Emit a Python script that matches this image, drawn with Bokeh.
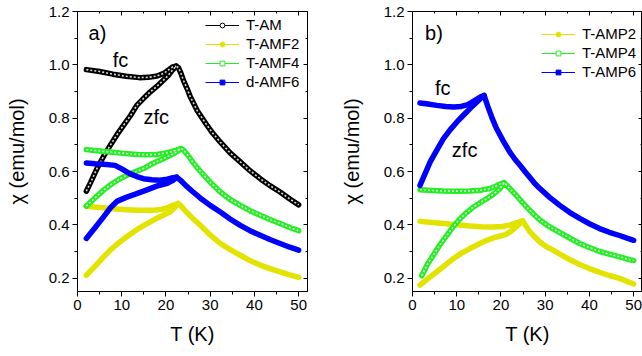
from bokeh.plotting import figure
from bokeh.models import (Range1d, FixedTicker, LinearAxis, Legend, LegendItem,
                          Label, CustomJSTickFormatter)
from bokeh.layouts import row
from bokeh.embed import file_html
from bokeh.resources import INLINE

# ---------------- data ----------------
x_ticks = [0, 10, 20, 30, 40, 50]
x_minor = [5, 15, 25, 35, 45]
y_ticks = [0.2, 0.4, 0.6, 0.8, 1.0, 1.2]
y_minor = [0.3, 0.5, 0.7, 0.9, 1.1]

# panel a
am_zfc_T = [2, 3, 4.4, 6, 7.4, 9, 10.4, 12, 13.4, 15, 16.4, 18, 19.4, 20.5, 21.2, 22.3]
am_zfc_c = [0.526, 0.56, 0.611, 0.66, 0.698, 0.74, 0.773, 0.81, 0.848, 0.875, 0.898, 0.92, 0.942, 0.96, 0.975, 0.995]
am_fc_T = [2, 5, 8, 11, 14, 16, 18, 19.5, 20.5, 21.5, 22.3]
am_fc_c = [0.982, 0.975, 0.965, 0.957, 0.952, 0.953, 0.958, 0.968, 0.98, 0.992, 0.995]
am_hi_T = [22.3, 22.8, 23.3, 24, 24.8, 25.5, 26.3, 27, 27.8, 29, 30.5, 32.3, 34.5, 36.8, 39, 41.3, 43.5, 45.8, 48, 50]
am_hi_c = [0.995, 0.99, 0.972, 0.94, 0.91, 0.88, 0.854, 0.83, 0.81, 0.78, 0.745, 0.71, 0.67, 0.636, 0.603, 0.573, 0.547, 0.523, 0.497, 0.475]

amf2_zfc_T = [2, 4, 5.9, 7.7, 9.6, 11.5, 13.4, 15.2, 17.1, 19, 20.9, 22, 22.7]
amf2_zfc_c = [0.211, 0.245, 0.28, 0.31, 0.336, 0.36, 0.382, 0.4, 0.417, 0.433, 0.448, 0.465, 0.48]
amf2_fc_T = [2, 5, 8, 11, 14, 17, 19, 20.5, 21.7, 22.7]
amf2_fc_c = [0.47, 0.465, 0.46, 0.457, 0.455, 0.455, 0.458, 0.465, 0.474, 0.48]
amf2_hi_T = [22.7, 23.3, 24.5, 26, 27.8, 30, 32.3, 34.5, 36.8, 39, 41.3, 43.5, 45.8, 48, 50]
amf2_hi_c = [0.48, 0.473, 0.45, 0.425, 0.398, 0.362, 0.33, 0.307, 0.286, 0.266, 0.249, 0.236, 0.224, 0.212, 0.203]

amf4_zfc_T = [2, 4, 5.9, 7.7, 9.6, 12, 14.9, 17, 19.4, 21, 22.4, 23.4]
amf4_zfc_c = [0.47, 0.502, 0.53, 0.553, 0.573, 0.592, 0.611, 0.63, 0.648, 0.661, 0.673, 0.686]
amf4_fc_T = [2, 5, 7.4, 10.5, 13.4, 16, 17.9, 19.5, 20.9, 22.3, 23.4]
amf4_fc_c = [0.682, 0.677, 0.673, 0.668, 0.664, 0.663, 0.664, 0.668, 0.673, 0.68, 0.686]
amf4_hi_T = [23.4, 24, 25, 26.3, 27.8, 30, 32.3, 34.5, 36.8, 39, 41.3, 43.5, 45.8, 48, 50]
amf4_hi_c = [0.686, 0.68, 0.66, 0.63, 0.6, 0.56, 0.523, 0.495, 0.473, 0.453, 0.436, 0.42, 0.405, 0.39, 0.378]

amf6_zfc_T = [2, 4, 5.9, 7.5, 9.0, 11, 13.4, 15.7, 17.9, 20.3, 21.5, 22.4]
amf6_zfc_c = [0.349, 0.39, 0.43, 0.465, 0.489, 0.503, 0.517, 0.531, 0.545, 0.556, 0.566, 0.579]
amf6_fc_T = [2, 4, 5.9, 8.5, 10, 11.8, 13.4, 14.9, 16.8, 18.6, 20.3, 21.6, 22.4]
amf6_fc_c = [0.632, 0.629, 0.627, 0.623, 0.61, 0.592, 0.581, 0.573, 0.569, 0.567, 0.571, 0.577, 0.579]
amf6_hi_T = [22.4, 23.3, 24.5, 26, 27.8, 30, 32.3, 34.5, 36.8, 39, 41.3, 43.5, 45.8, 48, 50]
amf6_hi_c = [0.579, 0.567, 0.547, 0.525, 0.5, 0.473, 0.448, 0.422, 0.398, 0.378, 0.361, 0.345, 0.33, 0.316, 0.305]

# panel b
amp2_zfc_T = [1.7, 3.5, 5.5, 7.4, 9.3, 11, 13, 15, 16.8, 18.5, 19.8, 21, 22, 23.3, 24.3, 24.9]
amp2_zfc_c = [0.174, 0.198, 0.224, 0.249, 0.274, 0.293, 0.311, 0.328, 0.342, 0.352, 0.358, 0.363, 0.373, 0.39, 0.405, 0.415]
amp2_fc_T = [1.7, 4.5, 7, 10, 13, 15.5, 18.3, 20.3, 22, 23.5, 24.9]
amp2_fc_c = [0.413, 0.409, 0.405, 0.4, 0.396, 0.393, 0.392, 0.394, 0.399, 0.407, 0.415]
amp2_hi_T = [24.9, 25.7, 26.5, 27.6, 28.8, 30.3, 31.8, 33.3, 35.5, 37.8, 40, 42.3, 44.5, 46.8, 48.5, 50]
amp2_hi_c = [0.415, 0.395, 0.375, 0.355, 0.336, 0.318, 0.305, 0.29, 0.27, 0.251, 0.236, 0.222, 0.21, 0.199, 0.188, 0.178]

amp4_zfc_T = [2.1, 3.3, 4.7, 6.2, 7.8, 9.3, 10.8, 12.3, 13.8, 15.3, 16.8, 18.3, 19.8, 20.7]
amp4_zfc_c = [0.209, 0.25, 0.286, 0.325, 0.361, 0.395, 0.424, 0.447, 0.467, 0.483, 0.498, 0.515, 0.536, 0.558]
amp4_fc_T = [1.7, 4.5, 7, 10, 13, 15.5, 17.5, 18.8, 19.8, 20.7]
amp4_fc_c = [0.532, 0.529, 0.527, 0.526, 0.527, 0.53, 0.536, 0.545, 0.553, 0.558]
amp4_hi_T = [20.7, 21.5, 22.5, 23.5, 24.8, 26.2, 27.5, 28.8, 30.3, 31.8, 34.5, 37.8, 40, 42.3, 44.5, 46.8, 48.5, 50]
amp4_hi_c = [0.558, 0.545, 0.527, 0.51, 0.485, 0.46, 0.438, 0.418, 0.4, 0.385, 0.36, 0.33, 0.315, 0.3, 0.29, 0.28, 0.272, 0.266]

amp6_zfc_T = [1.7, 2.8, 4, 5.5, 7, 8.5, 10, 11.5, 13, 14.2, 15.3, 16.2]
amp6_zfc_c = [0.548, 0.59, 0.636, 0.68, 0.723, 0.756, 0.785, 0.811, 0.836, 0.855, 0.873, 0.885]
amp6_fc_T = [1.7, 3.5, 5.5, 7.5, 9.3, 11, 12.3, 13.5, 14.5, 15.4, 16.2]
amp6_fc_c = [0.857, 0.853, 0.848, 0.844, 0.842, 0.844, 0.85, 0.86, 0.871, 0.88, 0.885]
amp6_hi_T = [16.2, 17, 18, 19, 20.5, 22, 23.2, 24.3, 25.5, 26.5, 27.6, 28.8, 31, 33.3, 35.5, 37.8, 40, 42.3, 44.5, 46.8, 48.5, 50]
amp6_hi_c = [0.885, 0.845, 0.8, 0.761, 0.715, 0.673, 0.645, 0.623, 0.598, 0.578, 0.556, 0.536, 0.503, 0.473, 0.447, 0.424, 0.404, 0.386, 0.372, 0.36, 0.35, 0.342]

# ---------------- styling ----------------
FONT = "Liberation Sans"
BLACK = "#000000"
YELLOW = "#E3E300"
GREEN = "#22EE22"
BLUE = "#0000FF"


def make_fig(width, bl, br):
    p = figure(width=width, height=356, x_range=Range1d(0, 52), y_range=Range1d(0.15, 1.2),
               output_backend="svg", toolbar_location=None,
               min_border_left=bl, min_border_right=br, min_border_top=11, min_border_bottom=65)
    p.xgrid.visible = False
    p.ygrid.visible = False
    p.outline_line_color = "black"
    p.outline_line_width = 1
    p.xaxis.ticker = FixedTicker(ticks=x_ticks, minor_ticks=x_minor)
    p.yaxis.ticker = FixedTicker(ticks=y_ticks, minor_ticks=y_minor)
    p.yaxis.major_label_overrides = {v: f"{v:.1f}" for v in y_ticks}
    for ax in (p.xaxis[0], p.yaxis[0]):
        ax.axis_line_color = "black"
        ax.major_tick_out = 5
        ax.major_tick_in = 0
        ax.minor_tick_out = 3
        ax.minor_tick_in = 0
        ax.major_label_text_font = FONT
        ax.major_label_text_font_size = "15px"
        ax.major_label_text_color = "black"
        ax.axis_label_text_font = FONT
        ax.axis_label_text_font_size = "20px"
        ax.axis_label_text_font_style = "normal"
        ax.axis_label_text_color = "black"
    p.xaxis.major_label_standoff = 3
    p.yaxis.major_label_standoff = 3
    p.xaxis.axis_label = "T (K)"
    p.yaxis.axis_label = "\u03c7 (emu/mol)"
    p.xaxis.axis_label_standoff = 10
    p.yaxis.axis_label_standoff = 18
    # mirrored axes with inward ticks
    for side, tick in (("above", FixedTicker(ticks=x_ticks, minor_ticks=x_minor)),
                       ("right", FixedTicker(ticks=y_ticks, minor_ticks=y_minor))):
        ax = LinearAxis(ticker=tick)
        ax.formatter = CustomJSTickFormatter(code="return ''")
        ax.major_label_text_font_size = "0px"
        ax.major_label_standoff = 0
        ax.major_tick_in = 4
        ax.major_tick_out = 0
        ax.minor_tick_in = 2
        ax.minor_tick_out = 0
        ax.axis_line_color = "black"
        p.add_layout(ax, side)
    return p


def series(p, zT, zc, fT, fc, hT, hc, color, marker, filled, hollow):
    # legend key proxies (not shown in the plot area)
    thin = p.line(zT + hT[1:], zc + hc[1:], line_color=color, line_width=1, visible=False)
    mk = p.scatter(zT, zc, marker=marker, size=5, line_color=color,
                   fill_color=color if filled else "white", line_width=1, visible=False)
    paths = [(zT + hT[1:], zc + hc[1:]), (fT, fc)]
    for xs, ys in paths:
        p.line(xs, ys, line_color=color, line_width=5.5, line_join="round", line_cap="round")
    if hollow:
        for xs, ys in paths:
            p.line(xs, ys, line_color="white", line_width=1.6, line_alpha=0.85,
                   line_dash="2 2", line_join="round")
    return [thin, mk]


def add_legend(p, items, loc):
    leg = Legend(items=[LegendItem(label=l, renderers=r) for l, r in items], location=loc)
    leg.label_text_font = FONT
    leg.label_text_font_size = "15px"
    leg.label_text_color = "black"
    leg.glyph_width = 34
    leg.glyph_height = 12
    leg.label_height = 19
    leg.label_standoff = 7
    leg.spacing = 0
    leg.padding = 0
    leg.margin = 0
    leg.border_line_color = None
    leg.background_fill_alpha = 0
    leg.inactive_fill_alpha = 0
    p.add_layout(leg)


def txt(p, x, y, s):
    p.add_layout(Label(x=x, y=y, text=s, text_font=FONT, text_font_size="20px",
                       text_color="black", text_baseline="middle", text_align="left"))


# ---------------- panel a ----------------
pa = make_fig(320, 77, 13)
r_am = series(pa, am_zfc_T, am_zfc_c, am_fc_T, am_fc_c, am_hi_T, am_hi_c, BLACK, "circle", False, True)
r_f2 = series(pa, amf2_zfc_T, amf2_zfc_c, amf2_fc_T, amf2_fc_c, amf2_hi_T, amf2_hi_c, YELLOW, "circle", True, False)
r_f4 = series(pa, amf4_zfc_T, amf4_zfc_c, amf4_fc_T, amf4_fc_c, amf4_hi_T, amf4_hi_c, GREEN, "square", False, True)
r_f6 = series(pa, amf6_zfc_T, amf6_zfc_c, amf6_fc_T, amf6_fc_c, amf6_hi_T, amf6_hi_c, BLUE, "square", True, False)
add_legend(pa, [("T-AM", r_am), ("T-AMF2", r_f2), ("T-AMF4", r_f4), ("d-AMF6", r_f6)], (128, 200))
txt(pa, 2.5, 1.118, "a)")
txt(pa, 7.95, 1.017, "fc")
txt(pa, 14.9, 0.803, "zfc")

# ---------------- panel b ----------------
pb = make_fig(322, 92, 0)
r_p2 = series(pb, amp2_zfc_T, amp2_zfc_c, amp2_fc_T, amp2_fc_c, amp2_hi_T, amp2_hi_c, YELLOW, "circle", True, False)
r_p4 = series(pb, amp4_zfc_T, amp4_zfc_c, amp4_fc_T, amp4_fc_c, amp4_hi_T, amp4_hi_c, GREEN, "square", False, True)
r_p6 = series(pb, amp6_zfc_T, amp6_zfc_c, amp6_fc_T, amp6_fc_c, amp6_hi_T, amp6_hi_c, BLUE, "square", True, False)
add_legend(pb, [("T-AMP2", r_p2), ("T-AMP4", r_p4), ("T-AMP6", r_p6)], (129, 210))
txt(pb, 2.85, 1.118, "b)")
txt(pb, 5.1, 0.912, "fc")
txt(pb, 8.9, 0.679, "zfc")

layout = row(pa, pb)
open("out.html", "w").write(file_html(layout, INLINE))
